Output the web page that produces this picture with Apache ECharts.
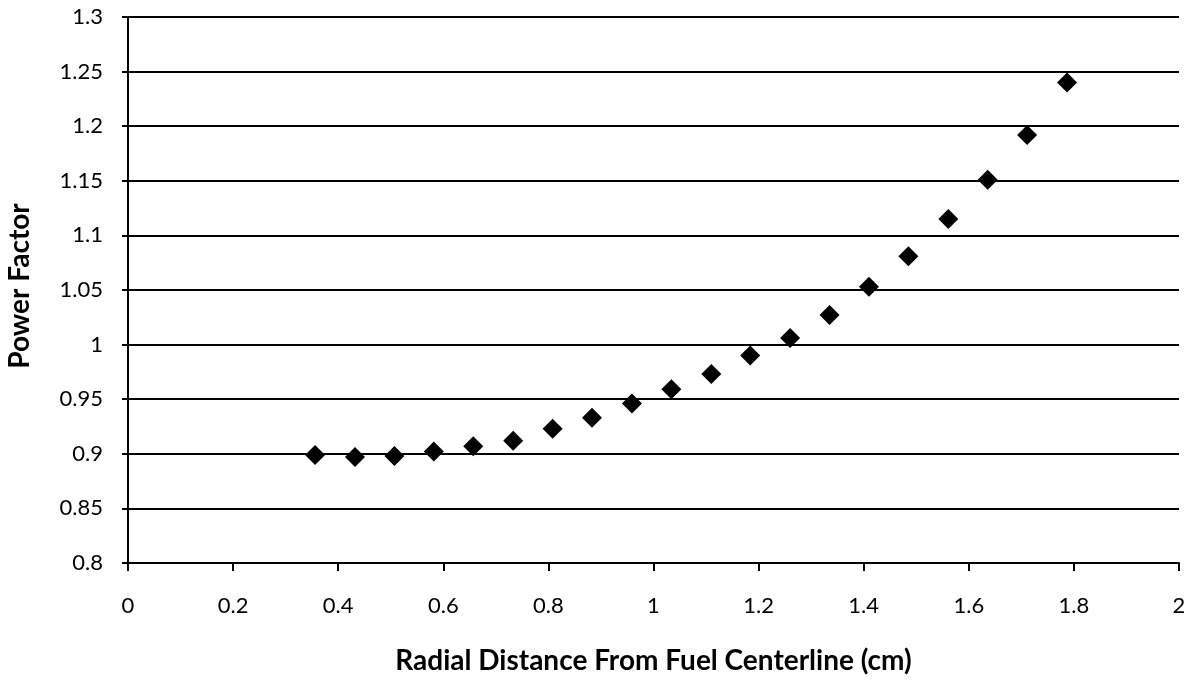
<!DOCTYPE html>
<html>
<head>
<meta charset="utf-8">
<script src="https://cdn.jsdelivr.net/npm/echarts@6/dist/echarts.min.js"></script>
<style>html,body{margin:0;padding:0;background:#fff}#c{width:1197px;height:681px}</style>
</head>
<body>
<div id="c"></div>
<script>
const radialDistance = [0.356, 0.432, 0.507, 0.582, 0.657, 0.733, 0.808, 0.883, 0.959, 1.034, 1.110, 1.184, 1.260, 1.335, 1.410, 1.485, 1.561, 1.636, 1.711, 1.787];
const powerFactor   = [0.899, 0.897, 0.898, 0.902, 0.907, 0.912, 0.923, 0.933, 0.946, 0.959, 0.973, 0.990, 1.006, 1.027, 1.053, 1.081, 1.115, 1.151, 1.192, 1.240];
const xTitle = 'Radial Distance From Fuel Centerline (cm)';
const yTitle = 'Power Factor';

const font = 'Lato, "Open Sans", sans-serif';
const chart = echarts.init(document.getElementById('c'));
chart.setOption({
  animation: false,
  backgroundColor: '#fff',
  grid: { left: 128, right: 18, top: 17, bottom: 118, containLabel: false, outerBoundsMode: 'none' },
  xAxis: {
    type: 'value', min: 0, max: 2, interval: 0.2,
    name: xTitle, nameLocation: 'middle', nameGap: 84,
    nameTextStyle: { fontFamily: font, fontWeight: 'bold', fontSize: 28, color: '#000' },
    axisLine: { show: true, lineStyle: { color: '#000', width: 2 } },
    axisTick: { show: true, length: 8, lineStyle: { color: '#000', width: 2 } },
    axisLabel: { margin: 32, fontFamily: font, fontSize: 22, color: '#000',
      formatter: v => String(+v.toFixed(2)) },
    splitLine: { show: false }
  },
  yAxis: {
    type: 'value', min: 0.8, max: 1.3, interval: 0.05,
    name: yTitle, nameLocation: 'middle', nameGap: 94, nameRotate: 90,
    nameTextStyle: { fontFamily: font, fontWeight: 'bold', fontSize: 28, color: '#000', padding: [0, 0, 0, 8] },
    axisLine: { show: true, lineStyle: { color: '#000', width: 2 } },
    axisTick: { show: true, length: 6, lineStyle: { color: '#000', width: 2 } },
    axisLabel: { margin: 25, fontFamily: font, fontSize: 22, color: '#000',
      formatter: v => String(+v.toFixed(2)) },
    splitLine: { show: true, lineStyle: { color: '#000', width: 2 } }
  },
  series: [{
    type: 'scatter',
    data: radialDistance.map((x, i) => [x, powerFactor[i]]),
    symbol: 'diamond',
    symbolSize: 20,
    itemStyle: { color: '#000', opacity: 1 }
  }]
});
</script>
</body>
</html>
